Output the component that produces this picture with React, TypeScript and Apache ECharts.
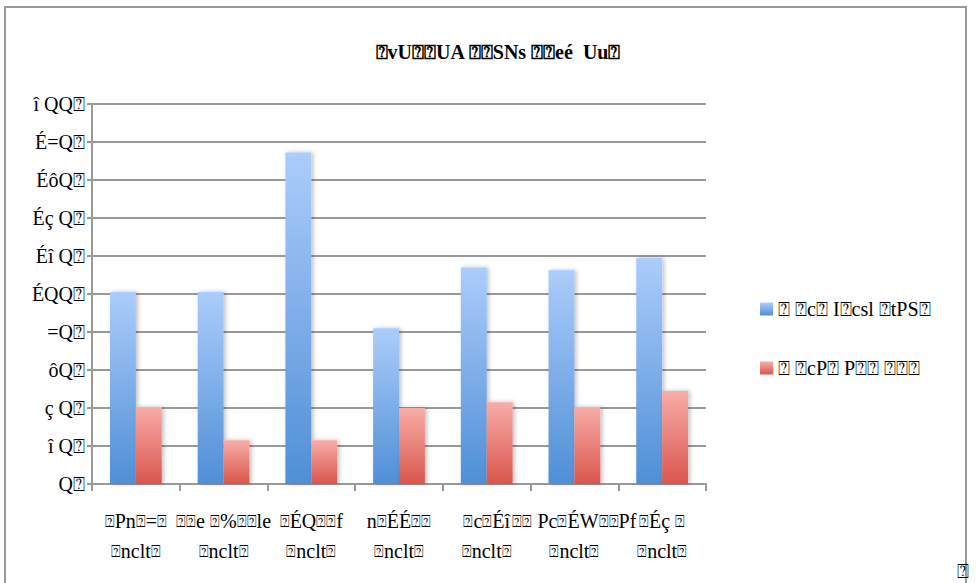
import React, { useEffect, useRef } from "react";
import * as echarts from "echarts";

const B = "\u2370";

const titleText = `${B}vU${B}${B}UA ${B}${B}SNs ${B}${B}eé  Uu${B}`;

const categories = [
  `${B}Pn${B}=${B}\n${B}nclt${B}`,
  `${B}${B}e ${B}%${B}${B}le\n${B}nclt${B}`,
  `${B}ÉQ${B}${B}f\n${B}nclt${B}`,
  `n${B}ÉÉ${B}${B}\n${B}nclt${B}`,
  `${B}c${B}Éî\n${B}nclt${B}`,
  `${B}${B} Pc${B}ÉW${B}${B}Pf\n${B}nclt${B}`,
  `${B}Éç ${B}\n${B}nclt${B}`,
];

const seriesNames = [
  `${B} ${B}c${B} I${B}csl ${B}tPS${B}`,
  `${B} ${B}cP${B} P${B}${B} ${B}${B}${B}`,
];

const blueValues = [101, 101, 174.5, 82, 114, 112.5, 119];
const redValues = [40.5, 23, 23, 40, 43, 40.5, 49];

const yTickLabels: Record<number, string> = {
  0: `Q${B}`,
  20: `î Q${B}`,
  40: `ç Q${B}`,
  60: `ôQ${B}`,
  80: `=Q${B}`,
  100: `ÉQQ${B}`,
  120: `Éî Q${B}`,
  140: `Éç Q${B}`,
  160: `ÉôQ${B}`,
  180: `É=Q${B}`,
  200: `î QQ${B}`,
};

const FONT = "'Liberation Serif', serif";

const richBox = (s: string) => s.split(B).join(`{b|${B}}`);

export default function App() {
  const ref = useRef<HTMLDivElement>(null);
  useEffect(() => {
    if (!ref.current) return;
    const chart = echarts.init(ref.current, null, { renderer: "svg" });
    const blueGrad = new echarts.graphic.LinearGradient(0, 0, 0, 1, [
      { offset: 0, color: "#abcdfb" },
      { offset: 1, color: "#4f8fd6" },
    ]);
    const redGrad = new echarts.graphic.LinearGradient(0, 0, 0, 1, [
      { offset: 0, color: "#f9aca8" },
      { offset: 1, color: "#d9564c" },
    ]);
    chart.setOption({
      animation: false,
      backgroundColor: "#ffffff",
      title: {
        text: titleText,
        left: 493,
        top: 37,
        textAlign: "center",
        textStyle: { fontFamily: FONT, fontSize: 20, fontWeight: "bold", color: "#000" },
      },
      legend: {
        orient: "vertical",
        left: 755,
        top: 294,
        itemWidth: 13,
        itemHeight: 13,
        itemGap: 39,
        icon: "rect",
        textStyle: { fontFamily: FONT, fontSize: 20, color: "#000", lineHeight: 13 },
        data: seriesNames,
      },
      grid: { left: 92, right: 270, top: 104, bottom: 99, containLabel: false },
      xAxis: {
        type: "category",
        data: categories,
        axisLine: { lineStyle: { color: "#999", width: 2 } },
        axisTick: { show: true, length: 7, lineStyle: { color: "#999", width: 2 } },
        axisLabel: {
          fontFamily: FONT,
          fontSize: 20,
          color: "#000",
          lineHeight: 30,
          margin: 22,
          interval: 0,
          formatter: (v: string) => richBox(v),
          rich: {
            b: { fontFamily: FONT, fontSize: 16, color: "#000", lineHeight: 30 },
          },
        },
      },
      yAxis: {
        type: "value",
        min: 0,
        max: 200,
        interval: 20,
        axisLine: { show: true, lineStyle: { color: "#999", width: 2 } },
        axisTick: { show: true, length: 5, lineStyle: { color: "#999", width: 2 } },
        splitLine: { lineStyle: { color: "#999", width: 2 } },
        axisLabel: {
          fontFamily: FONT,
          fontSize: 20,
          color: "#000",
          margin: 7,
          formatter: (v: number) => yTickLabels[v] ?? String(v),
        },
      },
      series: [
        {
          name: seriesNames[0],
          type: "bar",
          data: blueValues,
          barGap: "0%",
          barCategoryGap: "41%",
          itemStyle: {
            color: blueGrad,
            shadowBlur: 4,
            shadowColor: "rgba(0,0,0,0.25)",
            shadowOffsetX: 2,
          },
        },
        {
          name: seriesNames[1],
          type: "bar",
          data: redValues,
          barGap: "0%",
          barCategoryGap: "41%",
          itemStyle: {
            color: redGrad,
            shadowBlur: 4,
            shadowColor: "rgba(0,0,0,0.25)",
            shadowOffsetX: 2,
          },
        },
      ],
      graphic: [
        {
          type: "rect",
          shape: { x: 5, y: 7, width: 961, height: 620 },
          style: { fill: "none", stroke: "#999", lineWidth: 2 },
          silent: true,
        },
        {
          type: "text",
          x: 957,
          y: 561,
          style: { text: B, font: `20px ${FONT}`, fill: "#000" },
          silent: true,
        },
      ],
    });
    return () => chart.dispose();
  }, []);
  return (
    <div
      ref={ref}
      style={{ position: "absolute", left: 0, top: 0, width: 976, height: 583 }}
    />
  );
}
